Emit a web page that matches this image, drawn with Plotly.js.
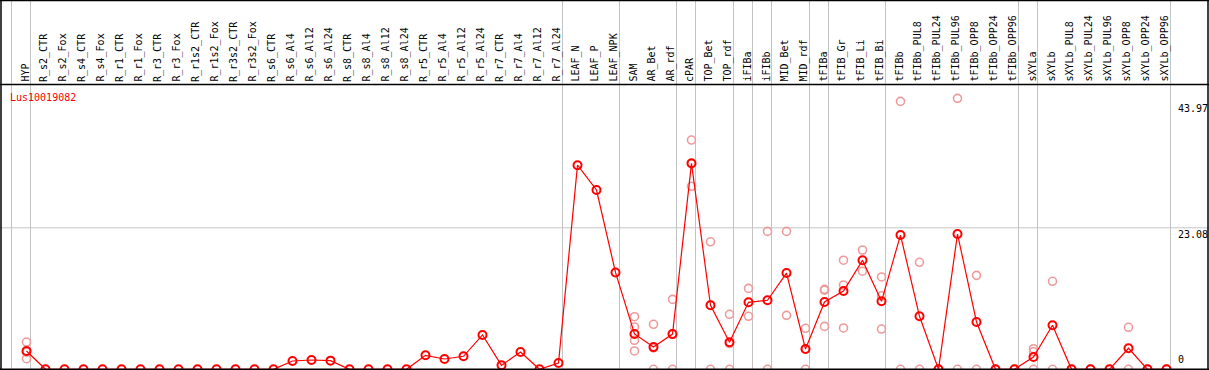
<!DOCTYPE html>
<html>
<head>
<meta charset="utf-8">
<script src="https://cdn.plot.ly/plotly-3.0.1.min.js"></script>
<style>html,body{margin:0;padding:0;background:#fff;}#chart{width:1209px;height:370px;}</style>
</head>
<body>
<div id="chart"></div>
<script>
const geneName = "Lus10019082";
const categories = ["HYP","R_s2_CTR","R_s2_Fox","R_s4_CTR","R_s4_Fox","R_r1_CTR","R_r1_Fox","R_r3_CTR","R_r3_Fox","R_r1s2_CTR","R_r1s2_Fox","R_r3s2_CTR","R_r3s2_Fox","R_s6_CTR","R_s6_Al4","R_s6_Al12","R_s6_Al24","R_s8_CTR","R_s8_Al4","R_s8_Al12","R_s8_Al24","R_r5_CTR","R_r5_Al4","R_r5_Al12","R_r5_Al24","R_r7_CTR","R_r7_Al4","R_r7_Al12","R_r7_Al24","LEAF_N","LEAF_P","LEAF_NPK","SAM","AR_Bet","AR_rdf","cPAR","TOP_Bet","TOP_rdf","iFIBa","iFIBb","MID_Bet","MID_rdf","tFIBa","tFIB_Gr","tFIB_Li","tFIB_Bi","tFIBb","tFIBb_PUL8","tFIBb_PUL24","tFIBb_PUL96","tFIBb_OPP8","tFIBb_OPP24","tFIBb_OPP96","sXYLa","sXYLb","sXYLb_PUL8","sXYLb_PUL24","sXYLb_PUL96","sXYLb_OPP8","sXYLb_OPP24","sXYLb_OPP96"];
const meanValues = [2.99,0,0,0,0,0,0,0,0,0,0,0,0,0,1.35,1.52,1.41,0,0,0,0,2.28,1.68,2.12,5.6,0.65,2.82,0,1.03,33.3,29.25,15.8,5.76,3.62,5.74,33.6,10.44,4.4,10.93,11.26,15.7,3.31,10.98,12.77,17.78,11.09,21.9,8.65,0,22.07,7.72,0,0,2.0,7.18,0,0,0,3.43,0,0];
const N = null;
const rep1 = [4.45,N,N,N,N,N,N,N,N,N,N,N,N,N,N,N,N,N,N,N,N,N,N,N,N,N,N,N,N,N,N,N,8.58,7.34,11.4,37.4,20.8,8.97,13.2,22.5,22.5,6.69,13.05,17.8,19.46,15.06,43.7,17.46,0,44.2,15.33,0,0,3.36,14.36,0,0,0,6.85,0,0];
const rep2 = [2.8,N,N,N,N,N,N,N,N,N,N,N,N,N,N,N,N,N,N,N,N,N,N,N,N,N,N,N,N,N,N,N,6.9,0,0,29.85,0,0,8.65,0,8.8,0,12.9,13.75,16.0,12.0,0,0,0,0,0,0,0,2.87,0,0,0,0,0,0,0];
const rep3 = [1.73,N,N,N,N,N,N,N,N,N,N,N,N,N,N,N,N,N,N,N,N,N,N,N,N,N,N,N,N,N,N,N,4.73,3.5,5.8,33.5,10.5,4.2,N,N,N,3.3,7.0,6.74,N,6.57,N,N,N,N,N,N,N,0,N,N,N,N,N,N,N];
const rep4 = [N,N,N,N,N,N,N,N,N,N,N,N,N,N,N,N,N,N,N,N,N,N,N,N,N,N,N,N,N,N,N,N,2.99,N,N,N,N,N,N,N,N,N,N,N,N,N,N,N,N,N,N,N,N,N,N,N,N,N,N,N,N];
const groupEnds = [-1,0,28,31,34,35,37,38,39,41,42,45,52,53,60];
const yTickVals = [0, 23.08, 43.97];
const yTickText = ["0","23.08","43.97"];

const W = 1209, H = 370;
const pxPerCat = 19, firstPx = 26.5;
const zeroPx = 369.3, pxPerUnit = 6.13;
const xr = [-firstPx/pxPerCat, (W-firstPx)/pxPerCat];
const yr = [-(H-zeroPx)/pxPerUnit, zeroPx/pxPerUnit];
const py = p => 1 - p/H;     // pixel-from-top -> paper y
const px = p => p/W;         // pixel-from-left -> paper x
const idx = categories.map((c,i)=>i);

const mono = "DejaVu Sans Mono, Liberation Mono, monospace";
const pale = "#ee9a9a";
const traces = [];
[rep1,rep2,rep3,rep4].forEach(r=>{
  traces.push({x: idx, y: r, type:'scatter', mode:'markers', hoverinfo:'skip',
    marker:{symbol:'circle-open', size:8, color:pale, line:{width:1.6, color:pale}}});
});
traces.push({x: idx, y: meanValues, type:'scatter', mode:'lines+markers', hoverinfo:'skip',
  line:{color:'#ff0000', width:1.2},
  marker:{symbol:'circle-open', size:8, color:'#ff0000', line:{width:2, color:'#ff0000'}}});

const shapes = [];
groupEnds.forEach(g=>{
  shapes.push({type:'line', xref:'x', yref:'paper', x0:g+0.21, x1:g+0.21, y0:0, y1:1, line:{color:'#c4c4c4', width:1}, layer:'below'});
});
shapes.push({type:'line', xref:'paper', yref:'y', x0:0, x1:1, y0:23.08, y1:23.08, line:{color:'#c4c4c4', width:1}, layer:'below'});
// frame
shapes.push({type:'line', xref:'paper', yref:'paper', x0:0, x1:1, y0:py(0.5), y1:py(0.5), line:{color:'#000', width:1.5}});
shapes.push({type:'line', xref:'paper', yref:'paper', x0:0, x1:1, y0:py(84.5), y1:py(84.5), line:{color:'#000', width:1.5}});
shapes.push({type:'line', xref:'paper', yref:'paper', x0:0, x1:1, y0:py(369.5), y1:py(369.5), line:{color:'#000', width:2}});
shapes.push({type:'line', xref:'paper', yref:'paper', x0:px(1), x1:px(1), y0:0, y1:1, line:{color:'#000', width:1.5}});
shapes.push({type:'line', xref:'paper', yref:'paper', x0:px(1208), x1:px(1208), y0:0, y1:1, line:{color:'#000', width:1.5}});

const annotations = [];
categories.forEach((c,i)=>{
  annotations.push({x:i, xref:'x', y:py(83), yref:'paper', text:c, showarrow:false, textangle:-90,
    xanchor:'center', yanchor:'bottom', xshift:-2, borderpad:0,
    font:{family:mono, size:10, color:'#000'}});
});
annotations.push({x:px(9), xref:'paper', y:py(97), yref:'paper', text:geneName, showarrow:false,
  xanchor:'left', yanchor:'middle', borderpad:0, font:{family:mono, size:10, color:'#ff0000'}});
const labelTopPx = [null, 229, 103];
yTickVals.forEach((v,k)=>{
  if (k===0) {
    annotations.push({x:px(1177), xref:'paper', y:py(366), yref:'paper', text:yTickText[k], showarrow:false,
      xanchor:'left', yanchor:'bottom', borderpad:0, font:{family:mono, size:10, color:'#000'}});
  } else {
    annotations.push({x:px(1177), xref:'paper', y:py(labelTopPx[k]-1), yref:'paper', text:yTickText[k], showarrow:false,
      xanchor:'left', yanchor:'top', borderpad:0, font:{family:mono, size:10, color:'#000'}});
  }
});

const layout = {
  width:W, height:H, margin:{l:0,r:0,t:0,b:0,pad:0},
  paper_bgcolor:'#fff', plot_bgcolor:'#fff', showlegend:false,
  xaxis:{range:xr, showgrid:false, zeroline:false, showticklabels:false, showline:false, ticks:'', fixedrange:true},
  yaxis:{range:yr, showgrid:false, zeroline:false, showticklabels:false, showline:false, ticks:'', fixedrange:true},
  shapes:shapes, annotations:annotations
};
Plotly.newPlot('chart', traces, layout, {staticPlot:true, displayModeBar:false});
</script>
</body>
</html>
